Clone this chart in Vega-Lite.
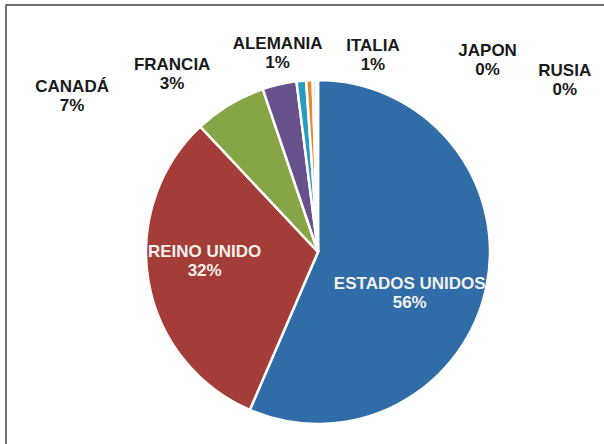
{
  "$schema": "https://vega.github.io/schema/vega-lite/v6.json",
  "autosize": "none",
  "width": 624,
  "height": 494,
  "padding": {"left": 6, "top": 5, "right": 0, "bottom": 0},
  "background": "white",
  "view": {"stroke": "#444444", "strokeWidth": 1.5, "fill": "white"},
  "data": {
    "values": [
      {"pais": "ESTADOS UNIDOS", "valor": 56.49, "orden": 1, "etiqueta": "ESTADOS UNIDOS\n56%"},
      {"pais": "REINO UNIDO", "valor": 31.51, "orden": 2, "etiqueta": "REINO UNIDO\n32%"},
      {"pais": "CANADÁ", "valor": 6.8, "orden": 3, "etiqueta": "CANADÁ\n7%"},
      {"pais": "FRANCIA", "valor": 3.2, "orden": 4, "etiqueta": "FRANCIA\n3%"},
      {"pais": "ALEMANIA", "valor": 0.9, "orden": 5, "etiqueta": "ALEMANIA\n1%"},
      {"pais": "ITALIA", "valor": 0.6, "orden": 6, "etiqueta": "ITALIA\n1%"},
      {"pais": "JAPON", "valor": 0.3, "orden": 7, "etiqueta": "JAPON\n0%"},
      {"pais": "RUSIA", "valor": 0.2, "orden": 8, "etiqueta": "RUSIA\n0%"}
    ]
  },
  "encoding": {
    "theta": {"field": "valor", "type": "quantitative", "stack": true},
    "order": {"field": "orden", "type": "quantitative"}
  },
  "layer": [
    {
      "mark": {"type": "arc", "outerRadius": 172, "stroke": "white", "strokeWidth": 2.5},
      "encoding": {
        "color": {
          "field": "pais",
          "type": "nominal",
          "scale": {
            "domain": ["ESTADOS UNIDOS", "REINO UNIDO", "CANADÁ", "FRANCIA", "ALEMANIA", "ITALIA", "JAPON", "RUSIA"],
            "range": ["#2F6CA8", "#A43C38", "#86A545", "#68508D", "#2C9BC0", "#E8892E", "#9DBCE0", "#D9A09E"]
          },
          "legend": null
        }
      }
    },
    {
      "mark": {"type": "text", "radius": 110, "dx": -16, "dy": 9.5, "lineBreak": "\n", "lineHeight": 19, "font": "Liberation Sans", "fontWeight": "bold", "fontSize": 17, "fill": "#F4F1EC"},
      "encoding": {"text": {"condition": {"test": "datum.pais === 'ESTADOS UNIDOS'", "field": "etiqueta"}, "value": ""}}
    },
    {
      "mark": {"type": "text", "radius": 110, "dx": -5, "dy": -18.5, "lineBreak": "\n", "lineHeight": 19, "font": "Liberation Sans", "fontWeight": "bold", "fontSize": 17, "fill": "#F4F1EC"},
      "encoding": {"text": {"condition": {"test": "datum.pais === 'REINO UNIDO'", "field": "etiqueta"}, "value": ""}}
    },
    {
      "mark": {"type": "text", "radius": 200, "dx": -143, "dy": 6.5, "lineBreak": "\n", "lineHeight": 19, "font": "Liberation Sans", "fontWeight": "bold", "fontSize": 17, "fill": "#1A1A1A"},
      "encoding": {"text": {"condition": {"test": "datum.pais === 'CANADÁ'", "field": "etiqueta"}, "value": ""}}
    },
    {
      "mark": {"type": "text", "radius": 200, "dx": -101, "dy": 7.5, "lineBreak": "\n", "lineHeight": 19, "font": "Liberation Sans", "fontWeight": "bold", "fontSize": 17, "fill": "#1A1A1A"},
      "encoding": {"text": {"condition": {"test": "datum.pais === 'FRANCIA'", "field": "etiqueta"}, "value": ""}}
    },
    {
      "mark": {"type": "text", "radius": 200, "dx": -21, "dy": -8.5, "lineBreak": "\n", "lineHeight": 19, "font": "Liberation Sans", "fontWeight": "bold", "fontSize": 17, "fill": "#1A1A1A"},
      "encoding": {"text": {"condition": {"test": "datum.pais === 'ALEMANIA'", "field": "etiqueta"}, "value": ""}}
    },
    {
      "mark": {"type": "text", "radius": 200, "dx": 65, "dy": -6.5, "lineBreak": "\n", "lineHeight": 19, "font": "Liberation Sans", "fontWeight": "bold", "fontSize": 17, "fill": "#1A1A1A"},
      "encoding": {"text": {"condition": {"test": "datum.pais === 'ITALIA'", "field": "etiqueta"}, "value": ""}}
    },
    {
      "mark": {"type": "text", "radius": 200, "dx": 174, "dy": -1.5, "lineBreak": "\n", "lineHeight": 19, "font": "Liberation Sans", "fontWeight": "bold", "fontSize": 17, "fill": "#1A1A1A"},
      "encoding": {"text": {"condition": {"test": "datum.pais === 'JAPON'", "field": "etiqueta"}, "value": ""}}
    },
    {
      "mark": {"type": "text", "radius": 200, "dx": 248, "dy": 18.5, "lineBreak": "\n", "lineHeight": 19, "font": "Liberation Sans", "fontWeight": "bold", "fontSize": 17, "fill": "#1A1A1A"},
      "encoding": {"text": {"condition": {"test": "datum.pais === 'RUSIA'", "field": "etiqueta"}, "value": ""}}
    }
  ]
}
